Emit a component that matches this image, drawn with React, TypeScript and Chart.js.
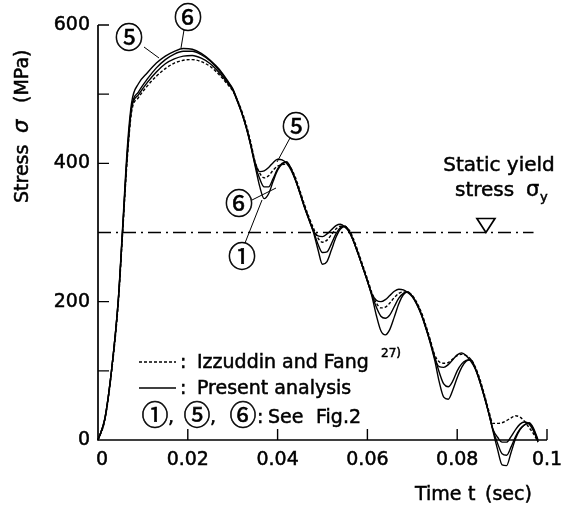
import { useEffect, useRef } from 'react';
import { Chart, registerables } from 'chart.js';

Chart.register(...registerables);

// ---- data (time in sec, stress in MPa) ----
const timeSec = [
  0, 0.0015, 0.003, 0.0045, 0.0055, 0.0065, 0.0075, 0.009, 0.011, 0.013, 0.015, 0.017, 0.019, 0.021, 0.023, 0.025, 0.027, 0.029,
  0.030, 0.031, 0.032, 0.033, 0.034, 0.035, 0.036, 0.037, 0.038, 0.039,
  0.040, 0.041, 0.042, 0.043, 0.044, 0.045, 0.046, 0.047, 0.048, 0.049,
  0.050, 0.051, 0.052, 0.053, 0.054, 0.055, 0.056, 0.057, 0.058, 0.059,
  0.060, 0.061, 0.062, 0.063, 0.064, 0.065, 0.066, 0.067, 0.068, 0.069,
  0.070, 0.071, 0.072, 0.073, 0.074, 0.075, 0.076, 0.077, 0.078, 0.079,
  0.080, 0.081, 0.082, 0.083, 0.084, 0.085, 0.086, 0.087, 0.088, 0.089,
  0.090, 0.091, 0.092, 0.093, 0.094, 0.095, 0.096, 0.097, 0.098,
];

const stressCase5 = [
  0, 30, 100, 202, 310, 420, 488, 515, 531, 545, 555, 562, 566, 565, 559, 549, 536, 518,
  508, 492, 474, 453, 428, 401, 388, 389, 394, 401,
  406, 405, 400, 390, 375, 356, 336, 318, 302, 295,
  294, 298, 304, 310, 312, 308, 300, 286, 268, 249,
  230, 211, 202, 200, 203, 209, 215, 218, 217, 213,
  207, 196, 181, 162, 142, 118, 106, 105, 109, 116,
  123, 126, 122, 114, 103, 85, 63, 39, 15, 4,
  -3, -3, 5, 15, 23, 26, 23, 13, -3,
];

const stressCase6 = [
  0, 30, 100, 200, 305, 412, 482, 503, 522, 538, 550, 558, 562, 562, 557, 548, 534, 517,
  507, 491, 473, 452, 427, 398, 378, 366, 366, 378,
  392, 400, 402, 392, 376, 357, 337, 319, 302, 283,
  271, 272, 284, 298, 307, 309, 301, 286, 268, 249,
  230, 210, 192, 179, 176, 181, 193, 205, 212, 214,
  208, 197, 182, 163, 142, 120, 98, 81, 77, 85,
  100, 110, 115, 116, 104, 86, 64, 40, 14, -5,
  -20, -22, -10, 5, 16, 22, 24, 15, -1,
];

const stressCase1 = [
  0, 30, 100, 200, 305, 410, 480, 499, 517, 532, 544, 551, 555, 556, 552, 544, 531, 515,
  506, 490, 473, 452, 426, 396, 367, 349, 356, 374,
  390, 399, 402, 392, 376, 357, 337, 319, 300, 275,
  254, 258, 275, 293, 305, 309, 301, 286, 268, 249,
  230, 208, 180, 158, 152, 160, 178, 197, 210, 214,
  208, 197, 182, 163, 140, 115, 84, 62, 59, 72,
  90, 105, 114, 116, 104, 86, 64, 40, 12, -14,
  -36, -37, -18, 2, 15, 22, 25, 17, 0,
];

const stressIzzuddinFang = [
  0, 28, 97, 196, 300, 405, 475, 495, 512, 526, 537, 545, 549, 550, 547, 540, 528, 513,
  505, 492, 476, 456, 431, 402, 386, 379, 382, 390,
  396, 398, 399, 393, 379, 360, 340, 322, 306, 292,
  286, 289, 297, 305, 309, 308, 303, 289, 271, 252,
  233, 213, 198, 191, 192, 198, 206, 212, 214, 213,
  209, 199, 185, 166, 145, 123, 113, 111, 112, 117,
  122, 124, 122, 117, 106, 89, 67, 43, 24, 24,
  25, 28, 32, 35, 33, 27, 18, 9, -3,
];

const yieldStress = 300;
const yieldLineTime = [0, 0.097];
const yieldMarkerTime = 0.0864;

const xTickValues = [0, 0.02, 0.04, 0.06, 0.08, 0.1];
const xTickLabels = ['0', '0.02', '0.04', '0.06', '0.08', '0.1'];
const yTickMarks = [100, 200, 400, 500, 600];
const yTickValues = [0, 200, 400, 600];
const yTickLabels = ['0', '200', '400', '600'];

const FONT = '"DejaVu Sans", "Liberation Sans", sans-serif';
const CJK = '"Noto Sans CJK JP", "DejaVu Sans", sans-serif';

const toPoints = (vals: number[]) => vals.map((v, i) => ({ x: timeSec[i], y: v }));

// text drawn with a hairline stroke to mimic the dark printed glyphs
function ink(ctx: CanvasRenderingContext2D, s: string, x: number, y: number) {
  ctx.fillText(s, x, y);
  ctx.strokeText(s, x, y);
}

const decorPlugin = {
  id: 'decor',
  beforeDraw(chart: any) {
    const { ctx, width, height } = chart;
    ctx.save();
    ctx.fillStyle = '#fff';
    ctx.fillRect(0, 0, width, height);
    ctx.restore();
  },
  afterDraw(chart: any) {
    const { ctx } = chart;
    const xs = chart.scales.x;
    const ys = chart.scales.y;
    const x0 = xs.getPixelForValue(0);
    const x1 = xs.getPixelForValue(0.1);
    const y0 = ys.getPixelForValue(0);
    const yTop = ys.getPixelForValue(600);
    ctx.save();
    ctx.strokeStyle = '#000';
    ctx.fillStyle = '#000';
    ctx.setLineDash([]);
    // axes
    ctx.lineWidth = 1.7;
    ctx.beginPath();
    ctx.moveTo(x0, yTop);
    ctx.lineTo(x0, y0);
    ctx.lineTo(x1, y0);
    ctx.stroke();
    ctx.lineWidth = 1.4;
    ctx.beginPath();
    yTickMarks.forEach((v) => {
      const py = ys.getPixelForValue(v);
      ctx.moveTo(x0, py);
      ctx.lineTo(x0 + 11, py);
    });
    xTickValues.slice(1).forEach((v) => {
      const px = xs.getPixelForValue(v);
      ctx.moveTo(px, y0);
      ctx.lineTo(px, y0 - 11);
    });
    ctx.stroke();

    ctx.lineWidth = 0.5;
    // tick labels
    ctx.font = `19px ${FONT}`;
    ctx.textAlign = 'right';
    ctx.textBaseline = 'middle';
    yTickValues.forEach((v, i) => {
      ink(ctx, yTickLabels[i], x0 - 8, ys.getPixelForValue(v));
    });
    ctx.textAlign = 'center';
    xTickValues.forEach((v, i) => {
      const off = i === 0 ? 4 : 0;
      ink(ctx, xTickLabels[i], xs.getPixelForValue(v) + off, y0 + 20);
    });

    // x title
    ctx.textAlign = 'left';
    ctx.textBaseline = 'middle';
    ink(ctx, 'Time', 415, 495);
    ink(ctx, 't', 468, 495);
    ink(ctx, '(sec)', 485, 495);

    // y title (rotated)
    ctx.save();
    ctx.translate(23, 203);
    ctx.rotate(-Math.PI / 2);
    ctx.textAlign = 'left';
    ctx.textBaseline = 'middle';
    ctx.font = `19px ${FONT}`;
    ink(ctx, 'Stress', 0, 0);
    ctx.font = `italic 21px ${FONT}`;
    ink(ctx, 'σ', 70, 0);
    ctx.font = `19px ${FONT}`;
    ink(ctx, '(MPa)', 100, 0);
    ctx.restore();

    // static yield annotation
    ctx.font = `20px ${FONT}`;
    ctx.textAlign = 'center';
    ctx.textBaseline = 'alphabetic';
    ink(ctx, 'Static yield', 499, 171);
    ctx.textAlign = 'left';
    ink(ctx, 'stress', 455, 196);
    ctx.font = `21px ${FONT}`;
    ink(ctx, 'σ', 526, 196);
    ctx.font = `13px ${FONT}`;
    ink(ctx, 'y', 540, 201);

    // triangle marker
    const tx = xs.getPixelForValue(yieldMarkerTime);
    const ty = ys.getPixelForValue(yieldStress);
    ctx.lineWidth = 1.7;
    ctx.beginPath();
    ctx.moveTo(tx - 9, ty - 14);
    ctx.lineTo(tx + 9, ty - 14);
    ctx.lineTo(tx, ty);
    ctx.closePath();
    ctx.stroke();

    // circled labels + leader lines
    ctx.font = `28px ${CJK}`;
    ctx.textAlign = 'center';
    ctx.textBaseline = 'middle';
    ctx.lineWidth = 0.6;
    const circled: [string, number, number][] = [
      ['⑤', 129, 37],
      ['⑥', 188, 17],
      ['⑤', 296, 126],
      ['⑥', 239, 203],
      ['①', 242, 256],
    ];
    circled.forEach(([s, cx, cy]) => ink(ctx, s, cx, cy));
    ctx.lineWidth = 1;
    ctx.beginPath();
    const leaders: [number, number, number, number][] = [
      [144, 47, 159, 58],
      [184, 30, 181, 48],
      [290, 138, 277, 162],
      [252, 200, 276, 188],
      [245, 243, 262, 200],
    ];
    leaders.forEach(([ax, ay, bx, by]) => {
      ctx.moveTo(ax, ay);
      ctx.lineTo(bx, by);
    });
    ctx.stroke();

    // legend
    ctx.lineWidth = 1.3;
    ctx.setLineDash([3, 2]);
    ctx.beginPath();
    ctx.moveTo(139, 362);
    ctx.lineTo(176, 362);
    ctx.stroke();
    ctx.setLineDash([]);
    ctx.beginPath();
    ctx.moveTo(139, 388);
    ctx.lineTo(176, 388);
    ctx.stroke();
    ctx.lineWidth = 0.5;
    ctx.font = `19px ${FONT}`;
    ctx.textAlign = 'left';
    ctx.textBaseline = 'alphabetic';
    ink(ctx, ':', 180, 368);
    ink(ctx, 'Izzuddin and Fang', 197, 368);
    ink(ctx, ':', 180, 394);
    ink(ctx, 'Present analysis', 197, 394);
    ctx.font = `12px ${FONT}`;
    ink(ctx, '27)', 381, 357);
    ctx.font = `27px ${CJK}`;
    ctx.textAlign = 'center';
    ctx.textBaseline = 'middle';
    ctx.lineWidth = 0.6;
    ink(ctx, '①', 155, 415);
    ink(ctx, '⑤', 197, 415);
    ink(ctx, '⑥', 243, 415);
    ctx.lineWidth = 0.5;
    ctx.font = `19px ${FONT}`;
    ctx.textAlign = 'left';
    ctx.textBaseline = 'alphabetic';
    ink(ctx, ',', 168, 423);
    ink(ctx, ',', 210, 423);
    ink(ctx, ':', 257, 423);
    ink(ctx, 'See', 268, 423);
    ink(ctx, 'Fig.2', 316, 423);
    ctx.restore();
  },
};

export default function App() {
  const ref = useRef<HTMLCanvasElement | null>(null);
  useEffect(() => {
    if (!ref.current) return;
    const common = {
      borderColor: '#000',
      borderWidth: 1.4,
      pointRadius: 0,
      fill: false,
      clip: false as any,
      cubicInterpolationMode: 'monotone' as const,
    };
    const chart = new Chart(ref.current, {
      type: 'line',
      data: {
        datasets: [
          { ...common, label: 'Izzuddin and Fang', data: toPoints(stressIzzuddinFang), borderDash: [3, 2] },
          { ...common, label: 'Case 1', data: toPoints(stressCase1) },
          { ...common, label: 'Case 5', data: toPoints(stressCase5) },
          { ...common, label: 'Case 6', data: toPoints(stressCase6) },
          {
            ...common,
            label: 'Static yield stress',
            data: yieldLineTime.map((t) => ({ x: t, y: yieldStress })),
            borderDash: [13, 5, 2, 5],
            cubicInterpolationMode: 'default' as const,
          },
        ],
      },
      options: {
        animation: false,
        responsive: false,
        maintainAspectRatio: false,
        layout: { padding: { left: 98, right: 25, top: 25, bottom: 68 } },
        plugins: { legend: { display: false }, tooltip: { enabled: false }, title: { display: false } },
        scales: {
          x: { type: 'linear', min: 0, max: 0.1, display: false },
          y: { type: 'linear', min: 0, max: 600, display: false },
        },
      },
      plugins: [decorPlugin],
    });
    return () => chart.destroy();
  }, []);
  return (
    <div style={{ position: 'absolute', left: 0, top: 0, width: 572, height: 508 }}>
      <canvas ref={ref} width={572} height={508} />
    </div>
  );
}
